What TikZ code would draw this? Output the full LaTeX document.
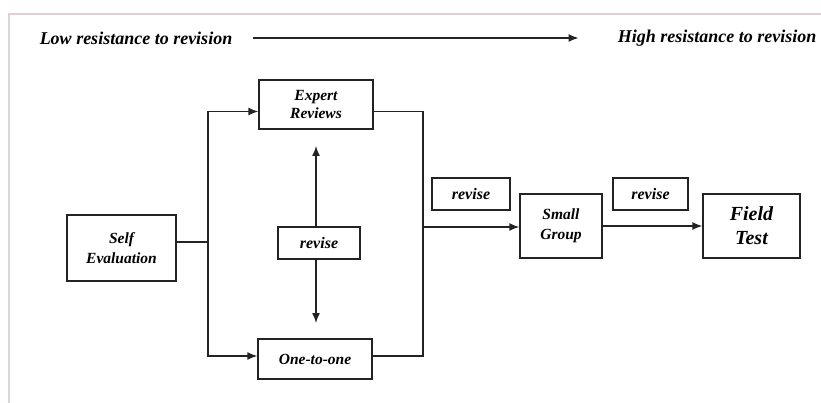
\documentclass[tikz,border=0pt]{standalone}
\usepackage{fontspec}
\setmainfont{Liberation Serif}
\usepackage{tikz}
\usepackage{xcolor}
\usetikzlibrary{arrows.meta}

\definecolor{framepink}{RGB}{226,208,212}
\definecolor{inkgray}{RGB}{35,35,35}

\tikzset{
  stagebox/.style={rectangle, draw=inkgray, line width=1.4pt, fill=white, align=center,
    inner sep=0pt, font=\bfseries\itshape\fontsize{15.5}{18}\selectfont},
  revisebox/.style={stagebox, font=\bfseries\itshape\fontsize{16}{18}\selectfont},
  headtext/.style={inner sep=0pt, font=\bfseries\itshape\fontsize{18}{20}\selectfont},
  link/.style={draw=inkgray, line width=1.4pt},
  flow/.style={link, -{Latex[length=10pt,width=8pt]}},
}

\begin{document}
\begin{tikzpicture}[x=1pt, y=-1pt]
\useasboundingbox (0,0) rectangle (821,403);
\draw[framepink, line width=1.8pt] (9,403) -- (9,14) -- (821,14);

% resistance scale
\node[headtext] (low) at (136,38) {Low resistance to revision};
\node[headtext] (high) at (717,38) {High resistance to revision};
\draw[flow] ([xshift=21pt]low.east) -- ([xshift=-39pt]high.west);

% stages
\node[stagebox, minimum width=109pt, minimum height=66pt, font=\bfseries\itshape\fontsize{15.5}{20}\selectfont] (self) at (121.5,248) {Self\\Evaluation};
\node[stagebox, minimum width=114pt, minimum height=49pt] (expert) at (316,104.5) {Expert\\Reviews};
\node[stagebox, minimum width=114pt, minimum height=40pt] (one) at (315,359) {One-to-one};
\node[revisebox, minimum width=82pt, minimum height=32pt] (revmid) at (319,243) {revise};
\node[revisebox, minimum width=78pt, minimum height=32pt] (revA) at (471,194) {revise};
\node[stagebox, minimum width=82pt, minimum height=64pt, font=\bfseries\itshape\fontsize{15.5}{20}\selectfont] (small) at (561,226) {Small\\Group};
\node[revisebox, minimum width=75pt, minimum height=32pt] (revB) at (650.5,194) {revise};
\node[stagebox, minimum width=97pt, minimum height=64pt, font=\bfseries\itshape\fontsize{20}{24}\selectfont] (field) at (751.5,226) {Field\\Test};

% connectors
\coordinate (split) at (208,242);
\coordinate (merge) at (423,227);
\coordinate (upTip) at (316,146);
\coordinate (downTip) at (316,323);
\draw[link] (self.east |- split) -- (split);
\draw[flow] (split) |- ([yshift=-7pt]expert.west);
\draw[flow] (split) |- ([yshift=3pt]one.west);
\draw[link] ([yshift=-7pt]expert.east) -| (merge) |- ([yshift=3pt]one.east);
\draw[flow] (merge) -- (small.west |- merge);
\draw[flow] (small) -- (field);
\draw[flow] (revmid.north -| upTip) -- (upTip);
\draw[flow] (revmid.south -| downTip) -- (downTip);
\end{tikzpicture}
\end{document}
